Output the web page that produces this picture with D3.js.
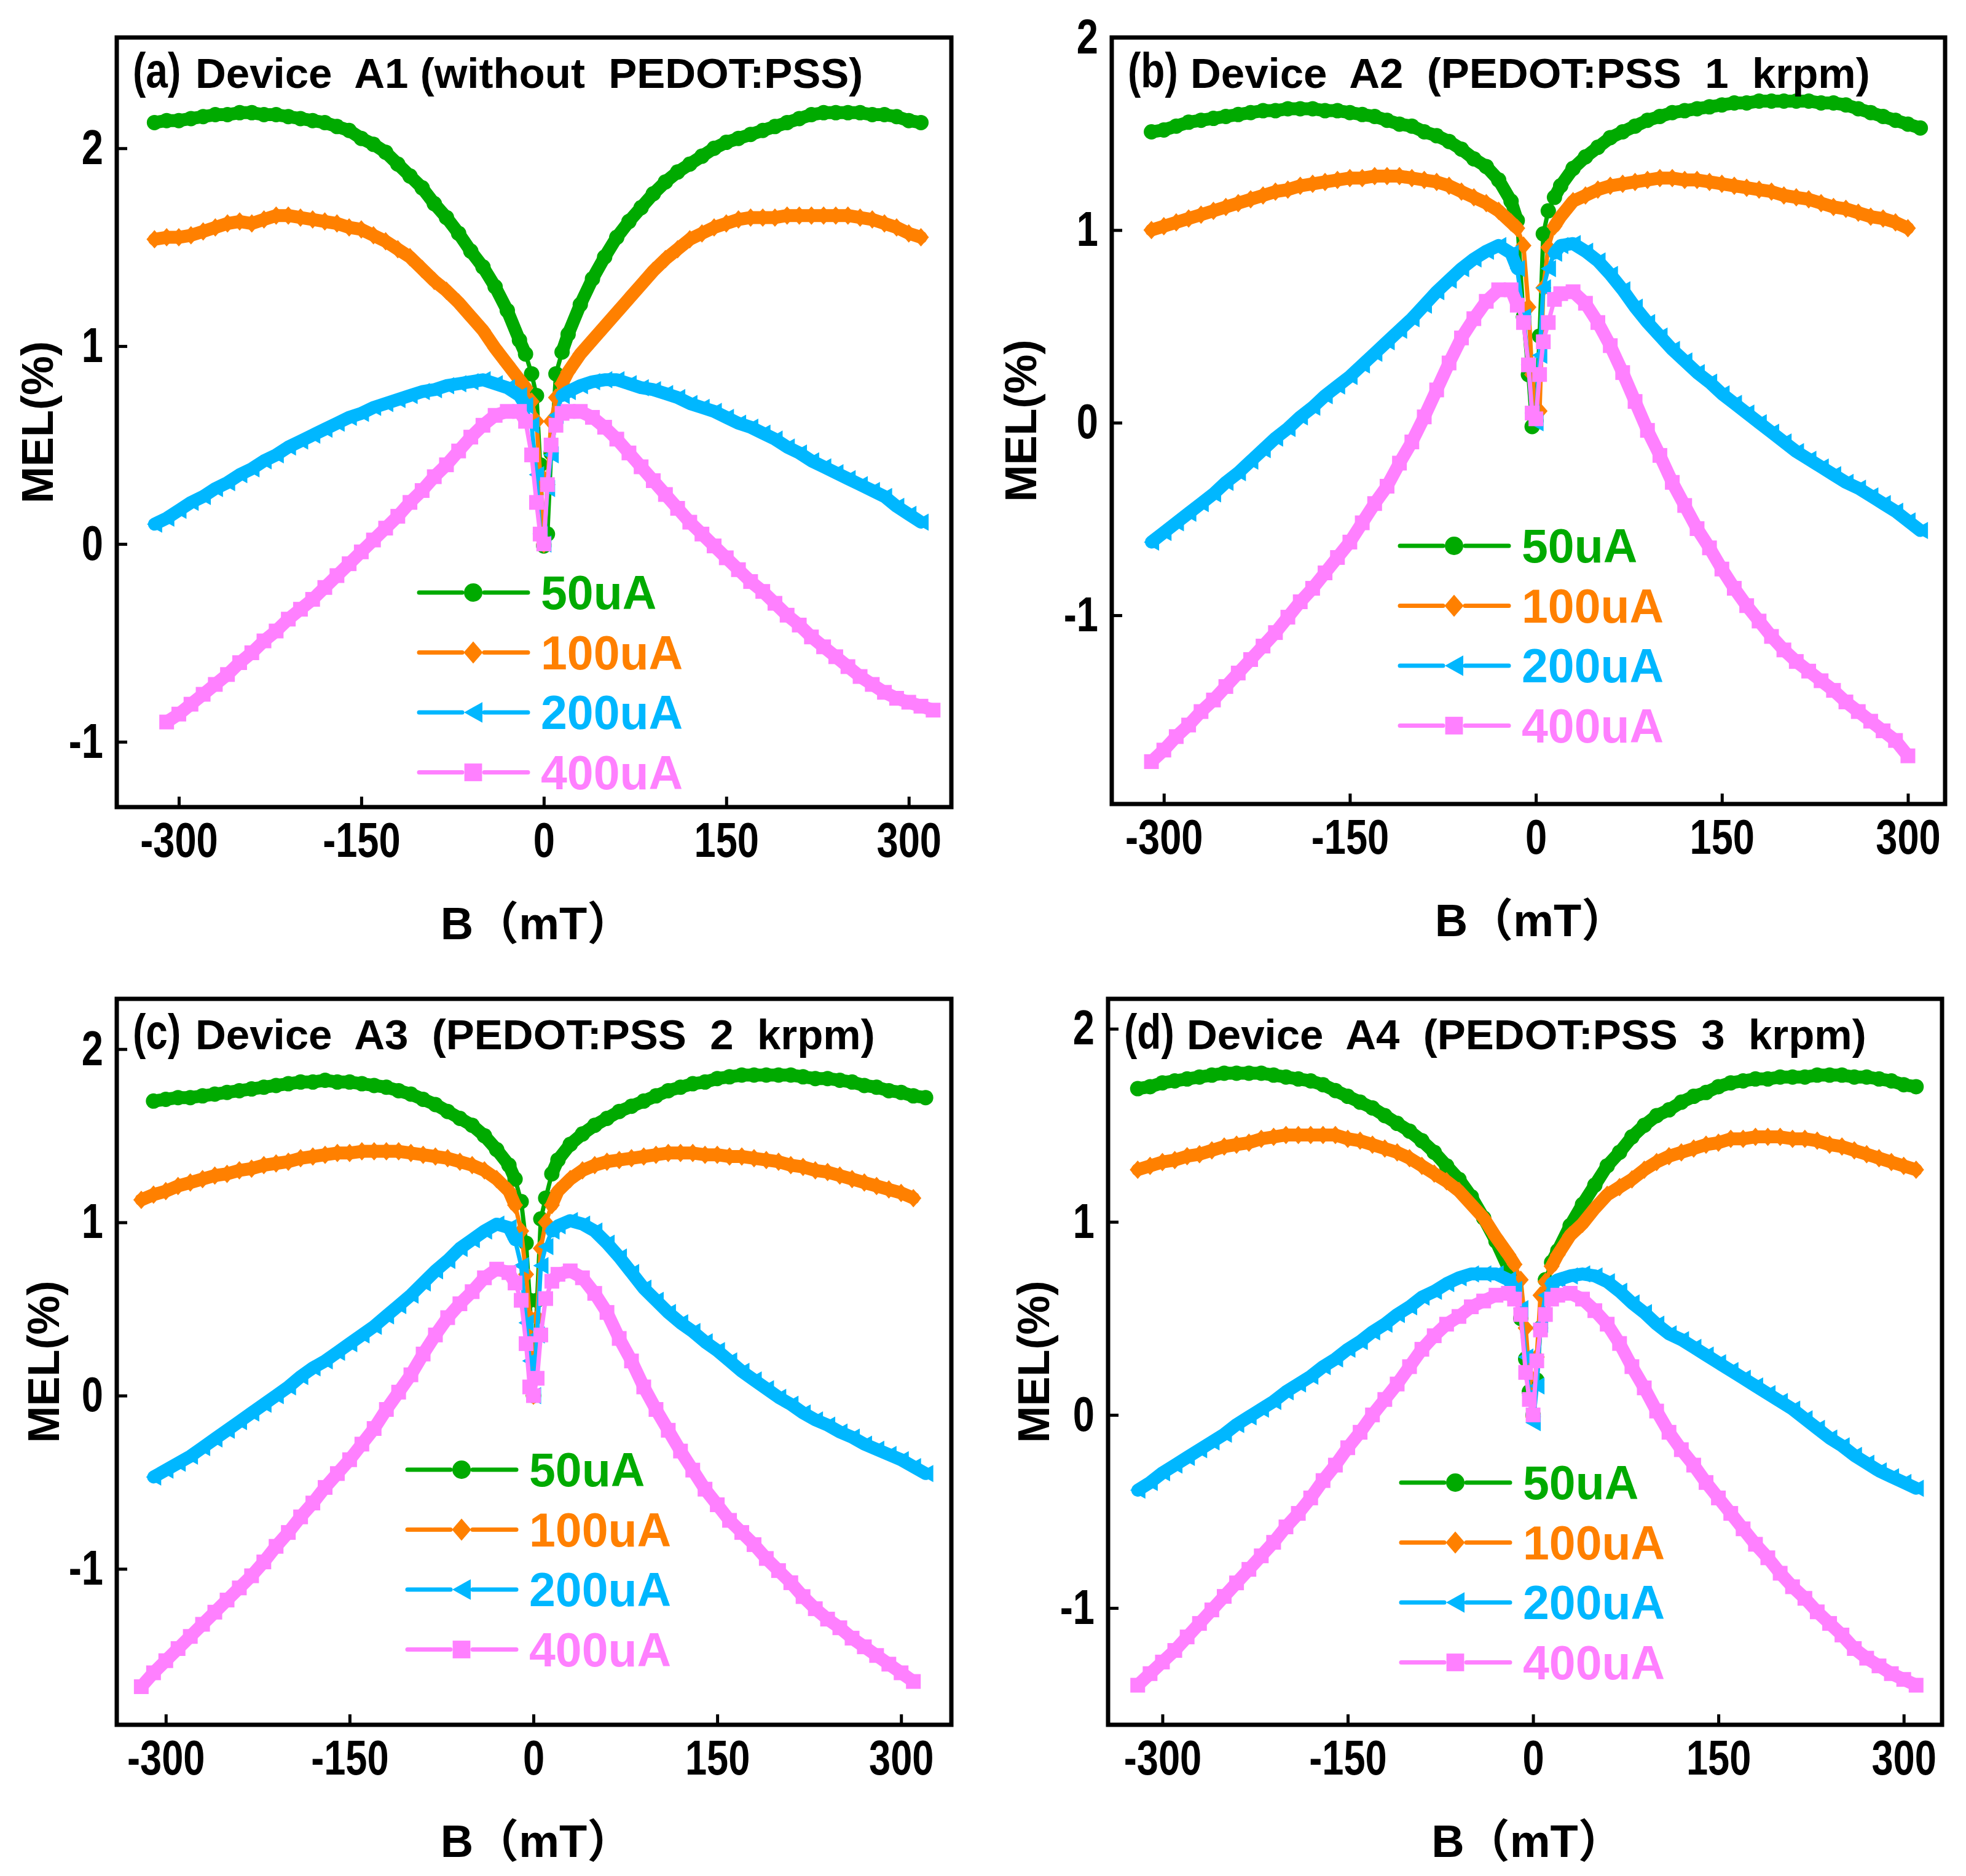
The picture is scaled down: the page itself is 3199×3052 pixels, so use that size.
<!DOCTYPE html>
<html><head><meta charset="utf-8">
<script src="https://cdn.jsdelivr.net/npm/d3@7"></script>
<style>
html,body{margin:0;padding:0;background:#fff;}
svg{display:block;}
</style></head>
<body>
<svg id="chart" width="3199" height="3052"></svg>
<script>
// ---------------- DATA ----------------
const B = [-320,-310,-300,-290,-280,-270,-260,-250,-240,-230,
 -220,-210,-200,-190,-180,-170,-160,-150,-140,-130,
 -120,-110,-100,-90,-80,-70,-60,-50,-40,-30,
 -20,-15,-10,-6,-3,0,3,6,10,15,
 20,30,40,50,60,70,80,90,100,110,
 120,130,140,150,160,170,180,190,200,210,
 220,230,240,250,260,270,280,290,300,310,
 320];
const seriesNames = ["50uA","100uA","200uA","400uA"];
const xTicks = [-300,-150,0,150,300];
const yTicks = [-1,0,1,2];

// (a) Device A1 (without PEDOT:PSS)
const a_50 = [2.13,2.14,2.14,2.15,2.16,2.17,2.17,2.18,2.18,2.17,
 2.17,2.16,2.15,2.14,2.13,2.11,2.09,2.05,2.02,1.98,
 1.92,1.86,1.80,1.72,1.65,1.57,1.48,1.40,1.30,1.18,
 1.03,0.96,0.86,0.75,0.40,-0.01,0.05,0.46,0.86,0.97,
 1.06,1.21,1.34,1.45,1.55,1.63,1.70,1.77,1.83,1.88,
 1.92,1.96,2.00,2.03,2.05,2.07,2.09,2.11,2.13,2.15,
 2.17,2.18,2.18,2.18,2.18,2.17,2.17,2.16,2.14,2.13,
 null];
const a_100 = [1.54,1.55,1.55,1.56,1.58,1.60,1.62,1.63,1.62,1.64,
 1.66,1.66,1.65,1.64,1.63,1.62,1.60,1.59,1.56,1.53,
 1.49,1.45,1.39,1.33,1.28,1.22,1.15,1.08,0.99,0.91,
 0.83,0.79,0.72,0.62,0.35,0.00,0.30,0.62,0.74,0.81,
 0.87,0.96,1.03,1.10,1.17,1.24,1.31,1.38,1.44,1.49,
 1.54,1.57,1.60,1.62,1.64,1.65,1.65,1.65,1.66,1.66,
 1.66,1.66,1.66,1.66,1.65,1.64,1.62,1.60,1.57,1.55,
 null];
const a_200 = [0.10,0.13,0.17,0.21,0.24,0.28,0.31,0.35,0.38,0.42,
 0.45,0.49,0.52,0.55,0.58,0.61,0.64,0.66,0.69,0.71,
 0.73,0.75,0.77,0.78,0.80,0.81,0.82,0.83,0.81,0.79,
 0.75,0.70,0.60,0.35,0.05,0.00,0.28,0.45,0.65,0.75,
 0.77,0.80,0.82,0.83,0.83,0.81,0.79,0.78,0.76,0.74,
 0.71,0.69,0.67,0.64,0.61,0.59,0.56,0.53,0.49,0.46,
 0.42,0.39,0.36,0.33,0.30,0.27,0.24,0.19,0.15,0.11,
 null];
const a_400 = [null,-0.90,-0.86,-0.81,-0.76,-0.71,-0.66,-0.60,-0.55,-0.49,
 -0.44,-0.38,-0.33,-0.28,-0.22,-0.16,-0.10,-0.04,0.02,0.08,
 0.14,0.21,0.27,0.34,0.40,0.47,0.54,0.60,0.65,0.67,
 0.67,0.62,0.45,0.21,0.05,0.00,0.30,0.50,0.60,0.66,
 0.67,0.67,0.64,0.59,0.53,0.46,0.39,0.32,0.25,0.18,
 0.11,0.05,-0.01,-0.07,-0.13,-0.19,-0.24,-0.30,-0.36,-0.41,
 -0.47,-0.52,-0.57,-0.62,-0.67,-0.71,-0.75,-0.78,-0.80,-0.82,
 -0.84];

// (b) Device A2 (PEDOT:PSS 1 krpm)
const b_50 = [null,1.51,1.52,1.54,1.56,1.57,1.58,1.59,1.60,1.61,
 1.62,1.62,1.63,1.63,1.63,1.62,1.62,1.61,1.60,1.59,
 1.57,1.55,1.54,1.51,1.49,1.46,1.42,1.37,1.33,1.26,
 1.15,1.05,0.55,0.25,-0.02,0.01,0.45,0.98,1.10,1.17,
 1.23,1.32,1.38,1.43,1.48,1.51,1.54,1.57,1.59,1.61,
 1.62,1.63,1.64,1.65,1.66,1.66,1.67,1.67,1.67,1.67,
 1.67,1.66,1.66,1.65,1.63,1.61,1.59,1.57,1.55,1.53,
 null];
const b_100 = [null,1.00,1.02,1.04,1.06,1.08,1.10,1.12,1.14,1.16,
 1.18,1.20,1.21,1.23,1.24,1.25,1.26,1.27,1.27,1.28,
 1.28,1.28,1.27,1.26,1.25,1.23,1.20,1.17,1.14,1.10,
 1.04,1.01,0.92,0.60,0.25,0.05,0.06,0.70,0.91,1.02,
 1.07,1.15,1.18,1.21,1.23,1.24,1.25,1.26,1.27,1.27,
 1.26,1.26,1.25,1.24,1.23,1.22,1.21,1.20,1.18,1.17,
 1.16,1.14,1.12,1.11,1.09,1.07,1.06,1.04,1.01,null,
 null];
const b_200 = [null,-0.62,-0.57,-0.52,-0.47,-0.42,-0.37,-0.31,-0.26,-0.20,
 -0.14,-0.08,-0.03,0.03,0.08,0.14,0.19,0.24,0.30,0.36,
 0.42,0.48,0.54,0.61,0.68,0.74,0.80,0.85,0.89,0.92,
 0.88,0.80,0.55,0.30,0.05,0.00,0.35,0.70,0.80,0.88,
 0.92,0.93,0.89,0.84,0.77,0.69,0.60,0.52,0.45,0.38,
 0.32,0.26,0.21,0.15,0.10,0.05,0.00,-0.05,-0.10,-0.15,
 -0.19,-0.23,-0.27,-0.31,-0.34,-0.38,-0.42,-0.46,-0.51,-0.56,
 null];
const b_400 = [null,-1.76,-1.70,-1.63,-1.57,-1.50,-1.44,-1.37,-1.30,-1.23,
 -1.16,-1.09,-1.01,-0.93,-0.86,-0.78,-0.70,-0.62,-0.52,-0.42,
 -0.33,-0.21,-0.10,0.03,0.17,0.31,0.44,0.54,0.63,0.69,
 0.69,0.61,0.52,0.30,0.05,0.02,0.25,0.42,0.52,0.64,
 0.67,0.68,0.62,0.52,0.40,0.26,0.11,-0.04,-0.17,-0.31,
 -0.43,-0.55,-0.65,-0.76,-0.86,-0.95,-1.03,-1.11,-1.18,-1.24,
 -1.29,-1.34,-1.39,-1.45,-1.50,-1.55,-1.60,-1.65,-1.73,null,
 null];

// (c) Device A3 (PEDOT:PSS 2 krpm)
const c_50 = [null,1.70,1.71,1.72,1.72,1.73,1.74,1.75,1.76,1.77,
 1.78,1.79,1.80,1.81,1.81,1.82,1.81,1.81,1.80,1.79,
 1.78,1.76,1.74,1.71,1.68,1.64,1.60,1.56,1.50,1.42,
 1.33,1.25,1.12,0.88,0.55,0.00,0.55,1.02,1.14,1.28,
 1.36,1.45,1.51,1.56,1.60,1.64,1.67,1.70,1.73,1.76,
 1.78,1.80,1.81,1.83,1.84,1.85,1.85,1.85,1.85,1.85,
 1.84,1.83,1.83,1.82,1.81,1.79,1.78,1.76,1.75,1.73,
 1.72];
const c_100 = [1.13,1.16,1.18,1.21,1.23,1.25,1.27,1.28,1.30,1.31,
 1.33,1.34,1.35,1.37,1.38,1.39,1.40,1.40,1.41,1.41,
 1.41,1.41,1.40,1.39,1.38,1.37,1.35,1.33,1.30,1.25,
 1.18,1.10,0.95,0.70,0.45,0.00,0.45,0.85,1.00,1.10,
 1.18,1.25,1.30,1.33,1.35,1.36,1.37,1.38,1.39,1.40,
 1.40,1.40,1.39,1.39,1.38,1.38,1.37,1.36,1.35,1.33,
 1.32,1.30,1.29,1.27,1.25,1.23,1.21,1.19,1.17,1.14,
 null];
const c_200 = [null,-0.47,-0.43,-0.39,-0.35,-0.30,-0.25,-0.20,-0.15,-0.10,
 -0.05,0.00,0.05,0.11,0.16,0.20,0.25,0.30,0.35,0.40,
 0.46,0.52,0.58,0.65,0.72,0.78,0.85,0.90,0.95,0.99,
 0.97,0.90,0.75,0.42,0.20,0.00,0.35,0.75,0.86,0.95,
 0.98,1.01,0.99,0.95,0.88,0.80,0.71,0.62,0.55,0.48,
 0.42,0.37,0.31,0.26,0.20,0.14,0.09,0.04,-0.01,-0.05,
 -0.10,-0.14,-0.17,-0.21,-0.24,-0.28,-0.31,-0.34,-0.37,-0.41,
 -0.45];
const c_400 = [-1.68,-1.60,-1.53,-1.46,-1.39,-1.32,-1.25,-1.18,-1.11,-1.04,
 -0.96,-0.87,-0.79,-0.70,-0.62,-0.53,-0.45,-0.37,-0.28,-0.19,
 -0.08,0.02,0.12,0.24,0.35,0.45,0.53,0.60,0.68,0.73,
 0.71,0.65,0.55,0.30,0.05,0.00,0.10,0.35,0.56,0.66,
 0.70,0.72,0.68,0.59,0.48,0.33,0.20,0.05,-0.08,-0.20,
 -0.32,-0.43,-0.54,-0.63,-0.72,-0.79,-0.86,-0.94,-1.01,-1.08,
 -1.16,-1.23,-1.29,-1.34,-1.40,-1.45,-1.50,-1.55,-1.60,-1.65,
 null];

// (d) Device A4 (PEDOT:PSS 3 krpm)
const d_50 = [1.69,1.70,1.72,1.73,1.74,1.75,1.76,1.77,1.77,1.77,
 1.77,1.76,1.75,1.74,1.73,1.71,1.68,1.65,1.62,1.59,
 1.55,1.51,1.47,1.42,1.36,1.29,1.22,1.13,1.02,0.90,
 0.76,0.67,0.50,0.29,0.12,0.00,0.18,0.45,0.70,0.79,
 0.85,0.98,1.09,1.19,1.29,1.36,1.44,1.50,1.55,1.58,
 1.62,1.65,1.67,1.70,1.72,1.73,1.74,1.74,1.75,1.75,
 1.75,1.76,1.76,1.76,1.75,1.75,1.74,1.73,1.71,1.70,
 null];
const d_100 = [1.27,1.29,1.31,1.32,1.34,1.35,1.37,1.39,1.40,1.41,
 1.43,1.44,1.45,1.45,1.45,1.45,1.45,1.43,1.42,1.40,
 1.38,1.36,1.33,1.29,1.25,1.21,1.16,1.09,1.02,0.92,
 0.83,0.78,0.70,0.45,0.20,-0.01,0.30,0.62,0.69,0.77,
 0.83,0.93,0.99,1.07,1.14,1.18,1.22,1.27,1.31,1.34,
 1.36,1.38,1.40,1.41,1.43,1.43,1.44,1.44,1.44,1.43,
 1.43,1.42,1.40,1.39,1.37,1.35,1.33,1.31,1.29,1.27,
 null];
const d_200 = [-0.39,-0.35,-0.30,-0.26,-0.22,-0.18,-0.14,-0.10,-0.05,-0.01,
 0.03,0.07,0.12,0.16,0.20,0.25,0.29,0.34,0.38,0.43,
 0.47,0.52,0.56,0.61,0.64,0.68,0.71,0.73,0.73,0.73,
 0.70,0.65,0.55,0.30,0.10,-0.04,0.15,0.47,0.62,0.68,
 0.70,0.72,0.73,0.72,0.69,0.64,0.58,0.53,0.47,0.42,
 0.39,0.35,0.31,0.27,0.23,0.19,0.15,0.11,0.07,0.03,
 -0.02,-0.07,-0.12,-0.16,-0.21,-0.25,-0.29,-0.32,-0.35,-0.38,
 null];
const d_400 = [-1.40,-1.34,-1.28,-1.22,-1.15,-1.08,-1.01,-0.94,-0.87,-0.80,
 -0.73,-0.66,-0.58,-0.51,-0.43,-0.34,-0.26,-0.17,-0.09,0.00,
 0.08,0.16,0.25,0.34,0.41,0.47,0.51,0.56,0.59,0.62,
 0.63,0.60,0.52,0.22,0.08,0.00,0.28,0.44,0.52,0.60,
 0.62,0.63,0.60,0.54,0.47,0.37,0.25,0.14,0.02,-0.09,
 -0.18,-0.26,-0.35,-0.43,-0.51,-0.59,-0.67,-0.74,-0.82,-0.89,
 -0.95,-1.02,-1.08,-1.14,-1.21,-1.26,-1.30,-1.34,-1.37,-1.40,
 null];

const panelLabels = ["(a)","(b)","(c)","(d)"];
const panelTitles = ["Device  A1 (without  PEDOT:PSS)","Device  A2  (PEDOT:PSS  1  krpm)",
                     "Device  A3  (PEDOT:PSS  2  krpm)","Device  A4  (PEDOT:PSS  3  krpm)"];
const xDomains = [[-351,335],[-342,330],[-340,341],[-344,331]];
const yDomains = [[-1.33,2.56],[-1.98,2.0],[-1.90,2.29],[-1.605,2.155]];
const panelData = [[a_50,a_100,a_200,a_400],[b_50,b_100,b_200,b_400],
                   [c_50,c_100,c_200,c_400],[d_50,d_100,d_200,d_400]];

// ---------------- LAYOUT / STYLE ----------------
const colors = ["#00AA00","#FF8000","#00B7FF","#FF80FF"];
const layout = [
  {left:190,  right:1548, top:61,   bottom:1313, leg:[492,903], melX:61},
  {left:1809, right:3165, top:61,   bottom:1308, leg:[469,827], melX:1661},
  {left:190,  right:1548, top:1625, bottom:2806, leg:[473,766], melX:71},
  {left:1803, right:3160, top:1625, bottom:2806, leg:[477,787], melX:1682}
];
const sans = "'Liberation Sans',Arial,Helvetica,sans-serif";
const condense = 0.8;

// marker shapes (centered at 0,0), scale factor k
function markerPath(i, k){
  if(i===0){ const r=12.5*k; return `M${-r},0a${r},${r} 0 1,0 ${2*r},0a${r},${r} 0 1,0 ${-2*r},0Z`; }
  if(i===1){ const w=13*k,h=15*k; return `M0,${-h}L${w},0L0,${h}L${-w},0Z`; }
  if(i===2){ const w=12.5*k,h=14*k; return `M${-w},0L${w},${-h}L${w},${h}Z`; }
  const s=12*k; return `M${-s},${-s}h${2*s}v${2*s}h${-2*s}Z`;
}

const svg = d3.select("#chart");

layout.forEach((L, pi) => {
  const x = d3.scaleLinear().domain(xDomains[pi]).range([L.left, L.right]);
  const y = d3.scaleLinear().domain(yDomains[pi]).range([L.bottom, L.top]);
  const g = svg.append("g");
  const line = d3.line().x(d => x(d.b)).y(d => y(d.v));

  panelData[pi].forEach((vals, si) => {
    const pts = B.map((b, j) => ({b, v: vals[j]})).filter(d => d.v !== null && d.v !== undefined);
    const col = colors[si];
    const sg = g.append("g");
    [pts.filter(d => d.b <= -15), pts.filter(d => d.b >= 15)].forEach(seg => {
      sg.append("path").attr("d", line(seg)).attr("fill","none").attr("stroke", col)
        .attr("stroke-width", 21).attr("stroke-linejoin","round").attr("stroke-linecap","round");
    });
    sg.append("path").attr("d", line(pts)).attr("fill","none").attr("stroke", col)
      .attr("stroke-width", 7).attr("stroke-linejoin","round").attr("stroke-linecap","round");
    sg.selectAll("path.m").data(pts).join("path").attr("class","m")
      .attr("transform", d => `translate(${x(d.b)},${y(d.v)})`)
      .attr("d", markerPath(si, 1)).attr("fill", col);
  });

  // axes with inward ticks
  const xa = d3.axisBottom(x).tickValues(xTicks).tickSizeInner(-17).tickSizeOuter(0).tickPadding(25)
    .tickFormat(d => String(d));
  const gx = g.append("g").attr("transform", `translate(0,${L.bottom})`).call(xa);
  const ya = d3.axisLeft(y).tickValues(yTicks).tickSizeInner(-17).tickSizeOuter(0).tickPadding(22)
    .tickFormat(d => String(d));
  const gy = g.append("g").attr("transform", `translate(${L.left},0)`).call(ya);
  [gx, gy].forEach(ax => {
    ax.select(".domain").remove();
    ax.selectAll(".tick line").attr("stroke","#000").attr("stroke-width",5);
    ax.selectAll(".tick text").attr("fill","#000").style("font-family", sans)
      .style("font-weight","bold").style("font-size","79px")
      .attr("transform", `scale(${condense},1)`);
  });
  gy.selectAll(".tick text").attr("x", -22 / condense);

  // frame
  g.append("rect").attr("x", L.left).attr("y", L.top)
    .attr("width", L.right - L.left).attr("height", L.bottom - L.top)
    .attr("fill","none").attr("stroke","#000").attr("stroke-width",7);

  // title
  g.append("text").attr("transform", `translate(${L.left + 26},${L.top + 81}) scale(${condense},1)`)
    .style("font-family", sans).style("font-weight","bold").style("font-size","80px")
    .text(panelLabels[pi]);
  g.append("text").attr("x", L.left + 128).attr("y", L.top + 82)
    .attr("xml:space","preserve").style("white-space","pre")
    .style("font-family", sans).style("font-weight","bold").style("font-size","69px")
    .text(panelTitles[pi]);

  // axis titles
  g.append("text").attr("transform", `translate(${L.melX},${(L.top + L.bottom)/2}) rotate(-90)`)
    .attr("text-anchor","middle").attr("dominant-baseline","central")
    .style("font-family", sans).style("font-weight","bold").style("font-size","72px")
    .text("MEL(%)");
  g.append("text").attr("x", (L.left + L.right)/2 + 4).attr("y", L.bottom + 215)
    .attr("text-anchor","middle")
    .style("font-family", sans + ",'Noto Sans CJK SC'").style("font-weight","bold").style("font-size","74px")
    .text("B（mT）");

  // legend
  const lx = L.left + L.leg[0], ly = L.top + L.leg[1];
  seriesNames.forEach((name, si) => {
    const yy = ly + si * 97.5, xc = lx + 88, col = colors[si];
    const lg = g.append("g");
    lg.append("line").attr("x1", lx).attr("x2", xc - 18).attr("y1", yy).attr("y2", yy)
      .attr("stroke", col).attr("stroke-width", 7).attr("stroke-linecap","round");
    lg.append("line").attr("x1", xc + 18).attr("x2", lx + 177).attr("y1", yy).attr("y2", yy)
      .attr("stroke", col).attr("stroke-width", 7).attr("stroke-linecap","round");
    lg.append("path").attr("transform", `translate(${xc},${yy})`).attr("d", markerPath(si, 1.2)).attr("fill", col);
    lg.append("text").attr("x", lx + 198).attr("y", yy + 27)
      .style("font-family", sans).style("font-weight","bold").style("font-size","77px")
      .attr("fill", col).text(name);
  });
});
</script>
</body></html>
